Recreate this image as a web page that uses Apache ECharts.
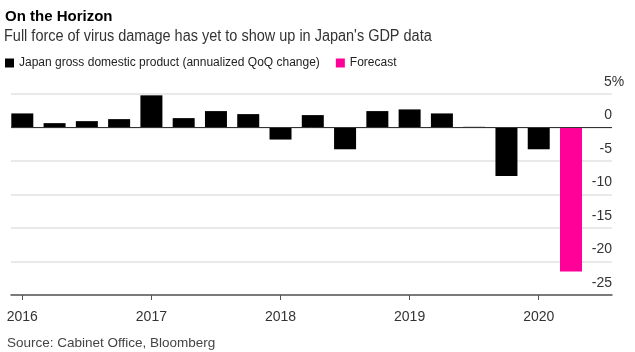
<!DOCTYPE html>
<html>
<head>
<meta charset="utf-8">
<script src="https://cdn.jsdelivr.net/npm/echarts@6/dist/echarts.min.js"></script>
<style>
  html, body { margin: 0; padding: 0; background: #fff; }
  #chart { width: 635px; height: 352px; }
</style>
</head>
<body>
<div id="chart"></div>
<script>
// quarters 2016 Q1 .. 2020 Q2
const quarters = ['2016 Q1', '2016 Q2', '2016 Q3', '2016 Q4', '2017 Q1', '2017 Q2', '2017 Q3', '2017 Q4',
    '2018 Q1', '2018 Q2', '2018 Q3', '2018 Q4', '2019 Q1', '2019 Q2', '2019 Q3', '2019 Q4',
    '2020 Q1', '2020 Q2'];
// annualized QoQ change, %
const gdpValues = [2.1, 0.65, 0.95, 1.25, 4.8, 1.4, 2.45, 2.0, -1.8, 1.85, -3.25, 2.45, 2.7, 2.1, 0.1, -7.25, -3.25];
const forecastValues = [-21.5];
const yearTicks = [0, 4, 8, 12, 16];
const yearLabels = ['2016', '2017', '2018', '2019', '2020'];

const font = 'Liberation Sans, Arial, sans-serif';
const chart = echarts.init(document.getElementById('chart'));

const option = {
    animation: false,
    textStyle: { fontFamily: font },
    title: [
        {
            text: 'On the Horizon',
            left: 5, top: 9, padding: 0,
            textStyle: { fontSize: 15, fontWeight: 'bold', color: '#000', fontFamily: font }
        },
        {
            text: 'Source: Cabinet Office, Bloomberg',
            left: 7, top: 336, padding: 0,
            textStyle: { fontSize: 13.5, fontWeight: 'normal', color: '#444', fontFamily: font }
        }
    ],
    // subtitle: the original face is narrower than Arial, so squeeze it a bit
    graphic: [
        {
            type: 'text',
            left: 4, top: 29,
            scaleX: 0.905,
            style: {
                text: "Full force of virus damage has yet to show up in Japan's GDP data",
                fontSize: 16, fill: '#333', fontFamily: font
            }
        }
    ],
    legend: {
        left: 5, top: 57, padding: 0,
        icon: 'rect',
        itemWidth: 9, itemHeight: 9,
        itemGap: 16,
        textStyle: { fontSize: 12, color: '#222', fontFamily: font },
        data: ['Japan gross domestic product (annualized QoQ change)', 'Forecast']
    },
    grid: { left: 11, right: 23, top: 94, bottom: 57 },
    xAxis: {
        type: 'value',
        min: -0.35, max: 18.27,
        splitLine: { show: false },
        axisLine: { show: true, onZero: false, lineStyle: { color: '#555', width: 1.5 } },
        axisTick: { show: true, customValues: yearTicks, length: 5, lineStyle: { color: '#555' } },
        axisLabel: {
            customValues: yearTicks,
            margin: 15,
            fontSize: 14, color: '#333', fontFamily: font,
            formatter: v => yearLabels[yearTicks.indexOf(v)]
        }
    },
    yAxis: {
        type: 'value',
        position: 'right',
        min: -25, max: 5, interval: 5,
        axisLine: { show: false },
        axisTick: { show: false },
        splitLine: { lineStyle: { color: '#e2e2e2', width: 1.5 } },
        axisLabel: {
            inside: true,
            margin: 0,
            verticalAlign: 'bottom',
            align: 'right',
            padding: [0, 0, 5, 0],
            fontSize: 14, color: '#333', fontFamily: font,
            formatter: v => v === 5 ? '{top|5%}' : String(v),
            rich: { top: { width: 8, align: 'left', fontSize: 14, color: '#333', fontFamily: font } }
        }
    },
    series: [
        {
            name: 'Japan gross domestic product (annualized QoQ change)',
            type: 'bar',
            barWidth: 22,
            barGap: '-100%',
            itemStyle: { color: '#000' },
            data: gdpValues.map((v, i) => [i, v]),
            markLine: {
                silent: true, symbol: 'none', label: { show: false },
                lineStyle: { color: '#333', width: 1, type: 'solid' },
                data: [{ yAxis: 0 }]
            }
        },
        {
            name: 'Forecast',
            type: 'bar',
            barWidth: 22,
            barGap: '-100%',
            itemStyle: { color: '#ff0099' },
            data: forecastValues.map((v, i) => [gdpValues.length + i, v])
        }
    ]
};

chart.setOption(option);
</script>
</body>
</html>
